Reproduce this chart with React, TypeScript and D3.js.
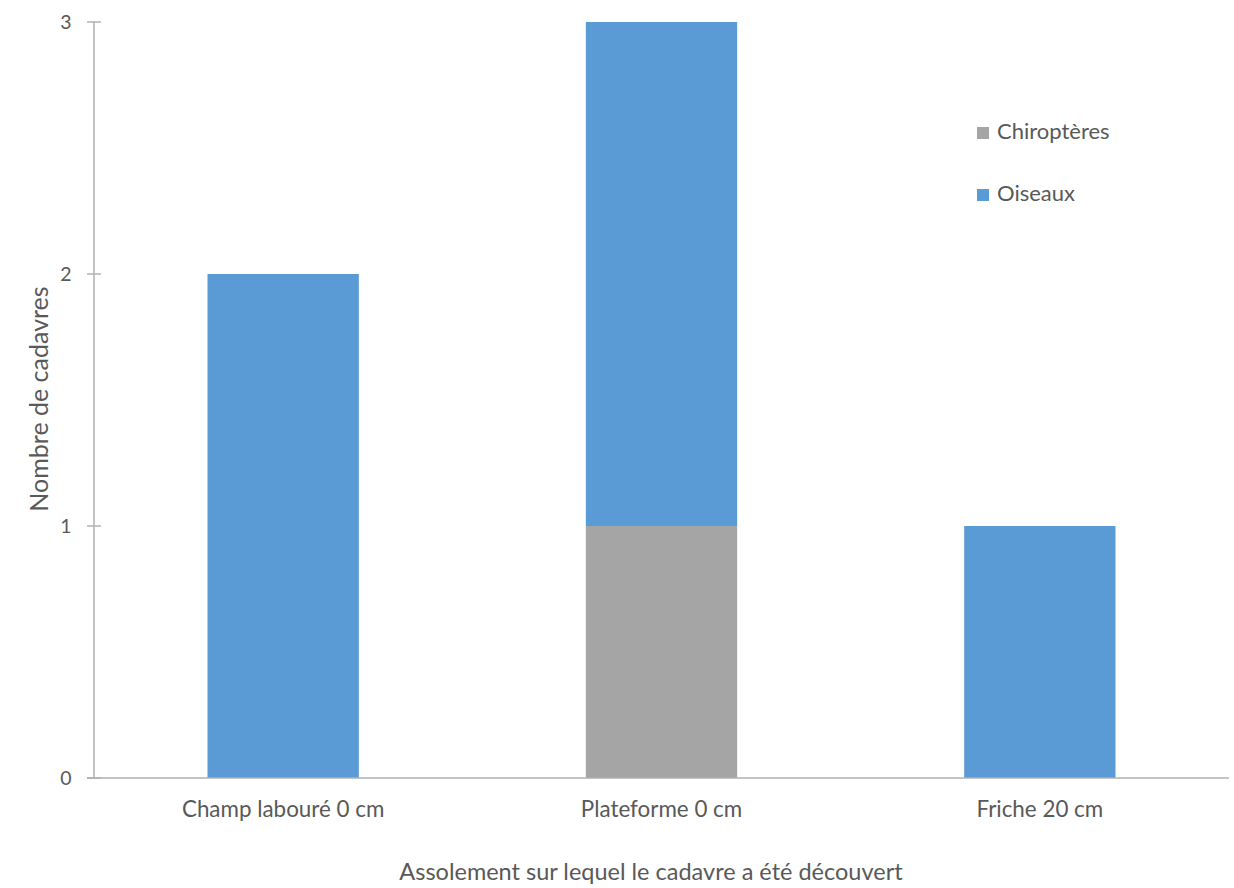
import React from "react";
import * as d3 from "d3";

const categories = ["Champ labouré 0 cm", "Plateforme 0 cm", "Friche 20 cm"];
const seriesNames = ["Chiroptères", "Oiseaux"];
const chiropteres = [0, 1, 0];
const oiseaux = [2, 2, 1];
const yTicks = [0, 1, 2, 3];
const colors = ["#a5a5a5", "#5b9bd5"];

export default function App() {
  const W = 1234, H = 888;
  const x0 = 94, x1 = 1229, yTop = 22, yBot = 778;
  const x = d3.scaleBand().domain(categories).range([x0, x1]).paddingInner(0.6).paddingOuter(0.3);
  const y = d3.scaleLinear().domain([0, 3]).range([yBot, yTop]);
  const rows = categories.map((c, i) => ({ cat: c, "Chiroptères": chiropteres[i], "Oiseaux": oiseaux[i] }));
  const stacked = d3.stack<any>().keys(seriesNames)(rows);
  const font = "Lato, 'Open Sans', sans-serif";
  const txt = "#595959";
  const axisCol = "#b0b0b0";
  const legendY = [133, 195];
  return (
    <svg width={W} height={H} style={{ position: "absolute", left: 0, top: 0, background: "#fff" }}>
      {stacked.map((s, si) => (
        <g key={si} fill={colors[si]}>
          {s.map((d, i) => (d[1] - d[0] > 0 ? (
            <rect key={i} x={x(categories[i])!} width={x.bandwidth()} y={y(d[1])} height={y(d[0]) - y(d[1])} />
          ) : null))}
        </g>
      ))}
      <line x1={x0} x2={x0} y1={yTop} y2={yBot} stroke={axisCol} strokeWidth={1.5} />
      <line x1={x0 - 7} x2={x1} y1={yBot} y2={yBot} stroke={axisCol} strokeWidth={1.5} />
      {yTicks.map((t) => (
        <g key={t}>
          <line x1={x0 - 7} x2={x0 + 7} y1={y(t)} y2={y(t)} stroke={axisCol} strokeWidth={1.5} />
          <text x={66} y={y(t)} dy="0.35em" textAnchor="middle" fontFamily={font} fontSize={19.5} fill={txt}>{t}</text>
        </g>
      ))}
      {categories.map((c) => (
        <text key={c} x={x(c)! + x.bandwidth() / 2} y={817} textAnchor="middle" fontFamily={font} fontSize={22.4} fill={txt}>{c}</text>
      ))}
      <text transform={`translate(48,399) rotate(-90)`} textAnchor="middle" fontFamily={font} fontSize={25} fill={txt}>Nombre de cadavres</text>
      <text x={651} y={880} textAnchor="middle" fontFamily={font} fontSize={23.5} fill={txt}>Assolement sur lequel le cadavre a été découvert</text>
      {seriesNames.map((n, i) => (
        <g key={n} transform={`translate(977,${legendY[i]})`}>
          <rect x={0} y={-6} width={12} height={12} fill={colors[i]} />
          <text x={20} y={6} fontFamily={font} fontSize={22} fill={txt}>{n}</text>
        </g>
      ))}
    </svg>
  );
}
